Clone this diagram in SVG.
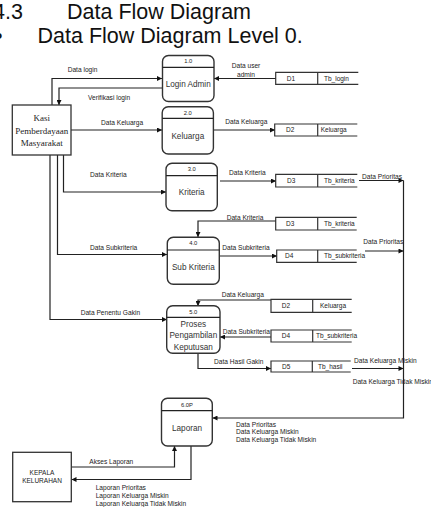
<svg xmlns="http://www.w3.org/2000/svg" width="431" height="507" viewBox="0 0 431 507">
<style>
.title{font-family:"Liberation Sans",Arial,sans-serif;font-size:21.5px;fill:#111}
.lbl{font-family:"Liberation Sans",Arial,sans-serif;font-size:6.6px;fill:#222}
.num{font-family:"Liberation Sans",Arial,sans-serif;font-size:5.8px;fill:#222;text-anchor:middle}
.pn{font-family:"Liberation Sans",Arial,sans-serif;font-size:8.2px;fill:#333;text-anchor:middle}
.st{font-family:"Liberation Sans",Arial,sans-serif;font-size:6.5px;fill:#222}
.ent{fill:#fff;stroke:#333;stroke-width:1.3}
.proc{fill:#fff;stroke:#333;stroke-width:1.4}
.sto{fill:none;stroke:#333;stroke-width:1.2}
.con{fill:none;stroke:#222;stroke-width:1.2;marker-end:url(#ah)}
.plain{fill:none;stroke:#222;stroke-width:1.2}
</style>
<defs>
<marker id="ah" viewBox="0 0 10 10" refX="10" refY="5" markerWidth="6" markerHeight="5" orient="auto" markerUnits="userSpaceOnUse">
<path d="M0,0 L10,5 L0,10 z" fill="#111"/>
</marker>
</defs>
<rect width="431" height="507" fill="#fff"/>
<g id="heading">
<text class="title" x="-7" y="18.5">4.3</text>
<text class="title" x="67" y="18.5">Data Flow Diagram</text>
<text class="title" x="-5" y="42.5">•</text>
<text class="title" x="37.5" y="42.5">Data Flow Diagram Level 0.</text>
</g>
<g id="connectors">
<polyline class="con" points="52,105 52,78.5 162,78.5"/>
<polyline class="con" points="162,88 59,88 59,105"/>
<polyline class="con" points="276,78.5 214,78.5"/>
<polyline class="con" points="71,130 162,130"/>
<polyline class="con" points="213,130 275,130"/>
<polyline class="con" points="63.5,155 63.5,192 166,192"/>
<polyline class="con" points="220,181 276,181"/>
<polyline class="con" points="276,221 198,221 198,237"/>
<polyline class="con" points="57.5,155 57.5,254.5 167,254.5"/>
<polyline class="con" points="219,256 277,256"/>
<polyline class="con" points="50,155 50,319.5 167,319.5"/>
<polyline class="con" points="271,300 198,300 198,306"/>
<polyline class="con" points="271,337 220,337"/>
<polyline class="con" points="198,353 198,368.5 271,368.5"/>
<polyline class="con" points="359,180.5 403.5,180.5"/>
<polyline class="con" points="365,251 403.5,251"/>
<polyline class="con" points="352,368.5 403.5,368.5"/>
<polyline class="con" points="403.5,180.5 403.5,418 212.5,418"/>
<polyline class="con" points="71.5,467 174.5,467 174.5,446"/>
<polyline class="con" points="191,446 191,479.5 71.5,479.5"/>
<text class="lbl" x="67.7" y="71.5">Data login</text>
<text class="lbl" x="88" y="99.5">Verifikasi login</text>
<text class="lbl" x="246" y="68" text-anchor="middle">Data user</text>
<text class="lbl" x="246" y="76.5" text-anchor="middle">admin</text>
<text class="lbl" x="101" y="125">Data Keluarga</text>
<text class="lbl" x="225.3" y="124">Data Keluarga</text>
<text class="lbl" x="90" y="177.3">Data Kriteria</text>
<text class="lbl" x="229" y="175.3">Data Kriteria</text>
<text class="lbl" x="226.7" y="220">Data Kriteria</text>
<text class="lbl" x="90" y="250">Data Subkriteria</text>
<text class="lbl" x="222.3" y="250">Data Subkriteria</text>
<text class="lbl" x="80.7" y="314.6">Data Penentu Gakin</text>
<text class="lbl" x="221.7" y="297.3">Data Keluarga</text>
<text class="lbl" x="222.7" y="334">Data Subkriteria</text>
<text class="lbl" x="214" y="364">Data Hasil Gakin</text>
<text class="lbl" x="362" y="179">Data Prioritas</text>
<text class="lbl" x="363.3" y="244">Data Prioritas</text>
<text class="lbl" x="354" y="363.3">Data Keluarga Miskin</text>
<text class="lbl" x="352.7" y="384.3">Data Keluarga Tidak Miskin</text>
<text class="lbl" x="236" y="426.5">Data Prioritas</text>
<text class="lbl" x="236" y="434.3">Data Keluarga Miskin</text>
<text class="lbl" x="236" y="442.3">Data Keluarga Tidak Miskin</text>
<text class="lbl" x="89.3" y="463.6">Akses Laporan</text>
<text class="lbl" x="95.7" y="489.6">Laporan Prioritas</text>
<text class="lbl" x="95.7" y="498">Laporan Keluarga Miskin</text>
<text class="lbl" x="95.7" y="506.3">Laporan Keluarga Tidak Miskin</text>
</g>
<g id="kasi">
<rect class="ent" x="12.3" y="105" width="58.7" height="50"/>
<text x="41.7" y="120.5" text-anchor="middle" font-family="'Liberation Serif','Times New Roman',serif" font-size="9" fill="#222">Kasi</text>
<text x="41.7" y="133.5" text-anchor="middle" font-family="'Liberation Serif','Times New Roman',serif" font-size="9" fill="#222">Pemberdayaan</text>
<text x="41.7" y="146" text-anchor="middle" font-family="'Liberation Serif','Times New Roman',serif" font-size="9" fill="#222">Masyarakat</text>
</g>
<g id="kepala">
<rect class="ent" x="12.7" y="452.3" width="58.6" height="49.4"/>
<text x="42" y="475" text-anchor="middle" font-family="'Liberation Sans',Arial,sans-serif" font-size="6.5" fill="#222">KEPALA</text>
<text x="42" y="483" text-anchor="middle" font-family="'Liberation Sans',Arial,sans-serif" font-size="6.5" fill="#222">KELURAHAN</text>
</g>
<g id="p1">
<rect class="proc" x="162.5" y="55.5" width="51.5" height="46" rx="6"/>
<line class="plain" x1="162.5" y1="67.3" x2="214" y2="67.3"/>
<text class="num" x="188.2" y="62.8">1.0</text>
<text class="pn" x="188.2" y="87">Login Admin</text>
</g>
<g id="p2">
<rect class="proc" x="162.2" y="106.7" width="51.2" height="47.3" rx="6"/>
<line class="plain" x1="162.2" y1="118.3" x2="213.4" y2="118.3"/>
<text class="num" x="187.8" y="114.7">2.0</text>
<text class="pn" x="187.8" y="138.8">Keluarga</text>
</g>
<g id="p3">
<rect class="proc" x="166" y="163.3" width="51.3" height="47.4" rx="6"/>
<line class="plain" x1="166" y1="175.7" x2="217.3" y2="175.7"/>
<text class="num" x="191.7" y="171.3">3.0</text>
<text class="pn" x="191.7" y="195">Kriteria</text>
</g>
<g id="p4">
<rect class="proc" x="167.3" y="237.3" width="52" height="47" rx="6"/>
<line class="plain" x1="167.3" y1="250" x2="219.3" y2="250"/>
<text class="num" x="193.3" y="245.3">4.0</text>
<text class="pn" x="193.3" y="269.5">Sub Kriteria</text>
</g>
<g id="p5">
<rect class="proc" x="166.7" y="305.7" width="53.3" height="47.6" rx="6"/>
<line class="plain" x1="166.7" y1="317.3" x2="220" y2="317.3"/>
<text class="num" x="193.3" y="314.3">5.0</text>
<text class="pn" x="193.3" y="327" font-size="8.5">Proses</text>
<text class="pn" x="193.3" y="338" font-size="8.5">Pengambilan</text>
<text class="pn" x="193.3" y="349.7" font-size="8.5">Keputusan</text>
</g>
<g id="p6">
<rect class="proc" x="161.5" y="398.3" width="50.8" height="47.7" rx="6"/>
<line class="plain" x1="161.5" y1="410.7" x2="212.3" y2="410.7"/>
<text class="num" x="187" y="407">6.0P</text>
<text class="pn" x="187" y="430.5" font-size="6.1">Laporan</text>
</g>
<g id="d1">
<path class="sto" d="M358.3,72.3 H275.7 V84.3 H358.3 M317.7,72.3 V84.3"/>
<text class="st" x="286.7" y="80.6">D1</text>
<text class="st" x="324" y="80.6">Tb_login</text>
</g>
<g id="d2a">
<path class="sto" d="M357.3,124 H274.7 V136 H357.3 M317.7,124 V136"/>
<text class="st" x="286" y="132.3">D2</text>
<text class="st" x="320.7" y="132.3">Keluarga</text>
</g>
<g id="d3a">
<path class="sto" d="M357.3,174.3 H275.7 V187 H357.3 M317.7,174.3 V187"/>
<text class="st" x="287" y="183">D3</text>
<text class="st" x="324" y="183">Tb_kriteria</text>
</g>
<g id="d3b">
<path class="sto" d="M356.7,217.3 H275.7 V230 H356.7 M317.7,217.3 V230"/>
<text class="st" x="286" y="226">D3</text>
<text class="st" x="324" y="226">Tb_kriteria</text>
</g>
<g id="d4a">
<path class="sto" d="M356.7,250 H276.7 V262.3 H356.7 M317.7,250 V262.3"/>
<text class="st" x="285" y="258.3">D4</text>
<text class="st" x="324" y="258.3">Tb_subkriteria</text>
</g>
<g id="d2b">
<path class="sto" d="M351.7,299.3 H271 V312.3 H351.7 M312.7,299.3 V312.3"/>
<text class="st" x="281.7" y="308.1">D2</text>
<text class="st" x="320" y="308.1">Keluarga</text>
</g>
<g id="d4b">
<path class="sto" d="M351.7,330 H271 V342 H351.7 M312.7,330 V342"/>
<text class="st" x="281.7" y="338.3">D4</text>
<text class="st" x="316" y="338.3">Tb_subkriteria</text>
</g>
<g id="d5">
<path class="sto" d="M350.7,361 H271 V372 H350.7 M312.3,361 V372"/>
<text class="st" x="282" y="368.8">D5</text>
<text class="st" x="318" y="368.8">Tb_hasil</text>
</g>
</svg>
